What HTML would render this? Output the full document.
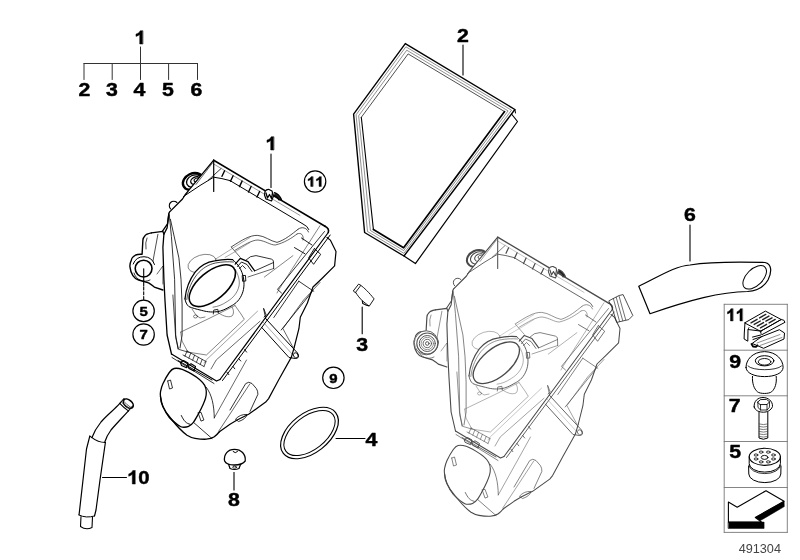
<!DOCTYPE html>
<html><head><meta charset="utf-8"><style>
html,body{margin:0;padding:0;background:#fff;}
svg{display:block;will-change:transform;}
</style></head><body>
<svg width="800" height="560" viewBox="0 0 800 560" stroke-linejoin="round" stroke-linecap="round">
<rect width="800" height="560" fill="#fff"/>
<g transform="translate(140,0) scale(1.15,1) translate(-140,0)">
<path d=" M142.29,44.00 L139.76,44.00 L139.76,34.45 Q138.37,35.75 136.50,36.38 L136.50,34.08 Q137.48,33.77 138.63,32.88 Q139.78,31.98 140.20,30.75 L142.29,30.75 Z" fill="#000" stroke="#000" stroke-width="0.45"/>
</g>
<path d="M140.5,47.0 L140.5,63.5" stroke="#333" stroke-width="1" fill="none" />
<path d="M84.0,63.5 L197.5,63.5" stroke="#333" stroke-width="1" fill="none" />
<path d="M84.0,63.5 L84.0,79.5" stroke="#333" stroke-width="1" fill="none" />
<path d="M112.2,63.5 L112.2,79.5" stroke="#333" stroke-width="1" fill="none" />
<path d="M140.5,63.5 L140.5,79.5" stroke="#333" stroke-width="1" fill="none" />
<path d="M168.6,63.5 L168.6,79.5" stroke="#333" stroke-width="1" fill="none" />
<path d="M197.5,63.5 L197.5,79.5" stroke="#333" stroke-width="1" fill="none" />
<g transform="translate(84.3,0) scale(1.15,1) translate(-84.3,0)">
<text x="79.16" y="96" font-family="Liberation Sans, sans-serif" font-weight="bold" font-size="18.5" fill="#000" stroke="#000" stroke-width="0.45">2</text>
</g>
<g transform="translate(112,0) scale(1.15,1) translate(-112,0)">
<text x="106.86" y="96" font-family="Liberation Sans, sans-serif" font-weight="bold" font-size="18.5" fill="#000" stroke="#000" stroke-width="0.45">3</text>
</g>
<g transform="translate(139.5,0) scale(1.15,1) translate(-139.5,0)">
<text x="134.36" y="96" font-family="Liberation Sans, sans-serif" font-weight="bold" font-size="18.5" fill="#000" stroke="#000" stroke-width="0.45">4</text>
</g>
<g transform="translate(168,0) scale(1.15,1) translate(-168,0)">
<text x="162.86" y="96" font-family="Liberation Sans, sans-serif" font-weight="bold" font-size="18.5" fill="#000" stroke="#000" stroke-width="0.45">5</text>
</g>
<g transform="translate(196.5,0) scale(1.15,1) translate(-196.5,0)">
<text x="191.36" y="96" font-family="Liberation Sans, sans-serif" font-weight="bold" font-size="18.5" fill="#000" stroke="#000" stroke-width="0.45">6</text>
</g>
<path d="M405.3,43.6 L514.9,109.5 L404.0,256.0 L364.6,232.5 L353.6,114.2 Z" stroke="#000" stroke-width="1.4" fill="none" />
<path d="M406.2,47.0 L511.5,110.2 L403.9,253.3 L367.5,231.5 L356.1,115.2 Z" stroke="#444" stroke-width="0.6" fill="none" />
<path d="M407.1,50.4 L508.1,110.9 L403.7,250.6 L370.4,230.5 L358.7,116.2 Z" stroke="#444" stroke-width="0.6" fill="none" />
<path d="M361.3,117.3 L408.1,53.9 L504.6,111.6" stroke="#222" stroke-width="0.8" fill="none" />
<path d="M504.6,111.6 L403.6,247.8 L373.4,229.4" stroke="#000" stroke-width="1.7" fill="none" />
<path d="M373.4,229.4 L361.3,117.3" stroke="#000" stroke-width="1.1" fill="none" />
<path d="M511.5,114.0 L517.5,121.5 L415.4,263.6 L404.0,256.0" stroke="#000" stroke-width="1.2" fill="none" />
<path d="M514.9,109.5 L515.5,113.0" stroke="#000" stroke-width="1" fill="none" />
<g transform="translate(463,0) scale(1.15,1) translate(-463,0)">
<text x="457.86" y="42" font-family="Liberation Sans, sans-serif" font-weight="bold" font-size="18.5" fill="#000" stroke="#000" stroke-width="0.45">2</text>
</g>
<path d="M463.0,45.0 L463.0,75.0" stroke="#000" stroke-width="1.1" fill="none" />
<circle cx="315.1" cy="181.5" r="10.7" stroke="#000" stroke-width="1.2" fill="#fff"/>
<g transform="translate(315.1,0) scale(1.1,1) translate(-315.1,0)">
<path d=" M313.01,186.40 L311.15,186.40 L311.15,179.39 Q310.13,180.34 308.76,180.81 L308.76,179.12 Q309.48,178.89 310.32,178.24 Q311.16,177.57 311.47,176.68 L313.01,176.68 Z M320.56,186.40 L318.70,186.40 L318.70,179.39 Q317.68,180.34 316.31,180.81 L316.31,179.12 Q317.03,178.89 317.87,178.24 Q318.71,177.57 319.02,176.68 L320.56,176.68 Z" fill="#000" stroke="#000" stroke-width="0.45"/>
</g>
<circle cx="143.6" cy="310.9" r="10.7" stroke="#000" stroke-width="1.2" fill="#fff"/>
<g transform="translate(143.6,0) scale(1.1,1) translate(-143.6,0)">
<text x="139.82" y="315.79999999999995" font-family="Liberation Sans, sans-serif" font-weight="bold" font-size="13.58" fill="#000" stroke="#000" stroke-width="0.45">5</text>
</g>
<circle cx="143.6" cy="334.5" r="10.7" stroke="#000" stroke-width="1.2" fill="#fff"/>
<g transform="translate(143.6,0) scale(1.1,1) translate(-143.6,0)">
<text x="139.82" y="339.4" font-family="Liberation Sans, sans-serif" font-weight="bold" font-size="13.58" fill="#000" stroke="#000" stroke-width="0.45">7</text>
</g>
<circle cx="333.4" cy="377.8" r="10.7" stroke="#000" stroke-width="1.2" fill="#fff"/>
<g transform="translate(333.4,0) scale(1.1,1) translate(-333.4,0)">
<text x="329.62" y="382.7" font-family="Liberation Sans, sans-serif" font-weight="bold" font-size="13.58" fill="#000" stroke="#000" stroke-width="0.45">9</text>
</g>
<path d="M143.7,268.8 L143.7,286.0" stroke="#000" stroke-width="1.1" fill="none" />
<path d="M143.7,287.0 L143.7,300.0" stroke="#000" stroke-width="1.1" fill="none" stroke-dasharray="3,1.8"/>
<g id="h1"><path d="M213.7,160.2 L325.0,226.3" stroke="#000" stroke-width="1.60" fill="none"/>
<path d="M325,226.3 Q329.5,228.5 328.3,232.5" stroke="#000" stroke-width="1.60" fill="none"/>
<path d="M183.5,196.5 L200,185.5 L213.65,177.2 Q222,178.3 230,180.6 L303,224 Q307.5,226 308.8,229.5" stroke="#000" stroke-width="1.00" fill="none"/>
<path d="M213.7,164.0 L300.0,215.4" stroke="#555" stroke-width="0.60" fill="none"/>
<path d="M222.0,176.3 L224.6,170.8" stroke="#000" stroke-width="1.40" fill="none"/>
<path d="M230.5,181.3 L233.1,175.8" stroke="#000" stroke-width="1.40" fill="none"/>
<path d="M239.5,186.6 L242.1,181.1" stroke="#000" stroke-width="1.40" fill="none"/>
<path d="M248.5,192.0 L251.1,186.5" stroke="#000" stroke-width="1.40" fill="none"/>
<path d="M257.0,197.0 L259.6,191.5" stroke="#000" stroke-width="1.40" fill="none"/>
<path d="M213.7,160.2 L213.7,191.5" stroke="#000" stroke-width="1.20" fill="none"/>
<path d="M221.0,168.6 L208.3,180.2" stroke="#000" stroke-width="0.80" fill="none"/>
<path d="M264.5,195 L265,191.5 Q266.5,189.2 269,189.5 L272,191 L273.5,196 L271.5,201 L266,199 Z" stroke="#000" stroke-width="1.20" fill="#fff"/>
<path d="M266,193 L267.5,198 L269.5,194.5 L271.5,198.5 L272.5,193" stroke="#000" stroke-width="1.30" fill="none"/>
<path d="M274.5,192.5 Q279,194 281.5,199.5 L279,200 Q277,196 274,195.5" stroke="#000" stroke-width="1.20" fill="#222"/>
<path d="M213.7,160.2 L189.5,189.4 L185.0,195.0 L182.5,199.0 L169.4,212.1" stroke="#000" stroke-width="1.30" fill="none"/>
<path d="M212.5,163.0 L196.0,184.5" stroke="#000" stroke-width="0.60" fill="none"/>
<clipPath id="gclip"><path d="M213.65,160.15 L172,210.4 L150,200 L170,150 Z"/></clipPath>
<g clip-path="url(#gclip)">
<ellipse cx="193" cy="181.5" rx="10.5" ry="8" transform="rotate(-25 193 181.5)" stroke="#000" stroke-width="2.40" fill="none"/>
<ellipse cx="194" cy="181" rx="7.8" ry="5.8" transform="rotate(-25 194 181)" stroke="#000" stroke-width="1.30" fill="none"/>
<ellipse cx="195.5" cy="180.5" rx="5" ry="3.5" transform="rotate(-25 195.5 180.5)" stroke="#000" stroke-width="1.30" fill="none"/>
<ellipse cx="196.5" cy="180" rx="2.5" ry="1.8" transform="rotate(-25 196.5 180)" stroke="#000" stroke-width="1.00" fill="none"/>
</g>
<path d="M170.6,208.8 a 3.2,3.2 0 1,1 6.3,-6.3" stroke="#000" stroke-width="1.10" fill="none"/>
<path d="M169.4,212.1 L168.8,213.8 L167.5,223.8 L162.5,231.2" stroke="#000" stroke-width="1.30" fill="none"/>
<path d="M168.8,214.0 L167.1,227.9 L163.9,234.3 L162.9,247.1 L163.9,279.3 L165.0,300.7 L167.1,335.0 L171.5,354.0" stroke="#000" stroke-width="1.30" fill="none"/>
<path d="M170.4,219.3 L178.9,257.9 L181.0,279.3 L182.1,305.0 L182.1,335.0 L180.0,348.0" stroke="#000" stroke-width="0.80" fill="none"/>
<path d="M169.3,215.0 L171.4,236.4 L174.6,279.3 L175.7,335.0 L178.0,349.0" stroke="#000" stroke-width="0.80" fill="none"/>
<path d="M157.9,234.3 L152.9,261.4" stroke="#000" stroke-width="0.70" fill="none"/>
<path d="M157.0,274.0 L162.9,266.0 L162.9,284.0" stroke="#000" stroke-width="0.60" fill="none"/>
<path d="M163.9,234.3 L162.9,231.4 L151.4,232.9" stroke="#000" stroke-width="1.30" fill="none"/>
<path d="M151.4,232.9 Q146,234 145,235.7 Q142.9,238 142.9,240 L142.1,254.3 Q138,254 135.7,255 Q131.5,257.5 131.4,260 Q129.5,264 130,267.1 Q130.5,272 132.9,275.7 Q135,279 138.6,280 L148.6,282.9 Q152,285 154.3,287.1 L162.9,290" stroke="#000" stroke-width="1.40" fill="none"/>
<path d="M147,238 Q145,242 146,249" stroke="#000" stroke-width="0.70" fill="none"/>
<circle cx="143.6" cy="268.6" r="8.4" stroke="#000" stroke-width="1.60" fill="none"/>
<path d="M133.2,264 A 11.3,11.3 0 0 1 154.5,264.5" stroke="#000" stroke-width="1.00" fill="none"/>
<path d="M134,273 A 11,11 0 0 0 150,280" stroke="#000" stroke-width="0.80" fill="none"/>
<ellipse cx="202" cy="263.5" rx="14.5" ry="8.5" transform="rotate(-18 202 263.5)" stroke="#444" stroke-width="0.60" fill="none"/>
<path d="M185,298.9 C186,288 190,279 195.3,271.9 C201,265 207,262 214.6,260.9 C221,259.5 227,259 232.6,259.6 C238,264 242,270 243.5,278 C245,287 243,293 240.3,297.6 C237,303 233,305 230,306.6 C226,309 222,311 217.2,311.7 C210,312.5 206,311.5 201.7,310.4 C196,309 192,308 188.9,306.6 C186.5,304.5 185.5,302 185,298.9 Z" stroke="none" stroke-width="0.00" fill="#fff"/>
<path d="M185,298.9 C186,288 190,279 195.3,271.9 C201,265 207,262 214.6,260.9 C221,259.5 227,259 232.6,259.6" stroke="#000" stroke-width="1.30" fill="none"/>
<path d="M186.8,299.5 C188,289 192,281 197,274.5 C202.5,268 208.5,264.5 215.5,263 C222,261.8 228,261.5 233.5,262" stroke="#000" stroke-width="0.70" fill="none"/>
<path d="M232.6,259.6 C238,264 242,270 243.5,278 C245,287 243,293 240.3,297.6 C237,303 233,305 230,306.6 C226,309 222,311 217.2,311.7 C210,312.5 206,311.5 201.7,310.4 C196,309 192,308 188.9,306.6 C186.5,304.5 185.5,302 185,298.9" stroke="#000" stroke-width="1.00" fill="none"/>
<path d="M235.2,269.3 C238.5,275 240,281 239,286 C237.5,293 233,298 227.4,301.4 C222,305 218,306.5 213,307.2" stroke="#333" stroke-width="0.60" fill="none"/>
<ellipse cx="212.3" cy="285.7" rx="27.8" ry="14" transform="rotate(-40 212.3 285.7)" stroke="#000" stroke-width="1.60" fill="none"/>
<path d="M235.2,264.1 L240.3,258.4 L248,261.6 L254.5,270.6" stroke="#000" stroke-width="1.30" fill="none"/>
<path d="M237.5,266.5 L241.5,262 L247,264.5 L252,271.5" stroke="#000" stroke-width="0.90" fill="none"/>
<path d="M239.5,268.5 L242.5,265.5 L245.5,268.5" stroke="#000" stroke-width="0.80" fill="none"/>
<path d="M242.2,276 L242.6,281.3 L245.8,281 L245.5,275.8 Z" stroke="#000" stroke-width="0.90" fill="none"/>
<path d="M213.3,314 L213.8,310 L217.8,309.3 L218.4,313" stroke="#000" stroke-width="0.80" fill="none"/>
<path d="M231.5,246.8 C242,240 250,235 257.8,235.4 C265,236 270,241 277,242.4 C285,240 292,234 298,229.3" stroke="#000" stroke-width="0.70" fill="none"/>
<path d="M235,250.3 C244,245 252,240 258,240 C266,241 270,245 275.3,245 C284,243 292,238 297,234" stroke="#000" stroke-width="0.60" fill="none"/>
<path d="M298,229.3 C302,226 307,228 308.5,232" stroke="#000" stroke-width="0.70" fill="none"/>
<path d="M320.0,225.7 L278.6,290.0 L277.0,293.0" stroke="#333" stroke-width="0.60" fill="none"/>
<path d="M292.9,255.7 L264.3,277.1" stroke="#333" stroke-width="0.60" fill="none"/>
<path d="M297,234 C301,232 304,235 303,240" stroke="#000" stroke-width="0.60" fill="none"/>
<path d="M246,260 Q250,255.5 256,255.6 L271.4,259.1 Q274,260 273.5,262.5 L254.5,271" stroke="#000" stroke-width="0.80" fill="none"/>
<path d="M273.5,262.5 L273.7,268.5" stroke="#000" stroke-width="0.80" fill="none"/>
<path d="M273.7,268.5 L248.0,277.0" stroke="#000" stroke-width="0.60" fill="none"/>
<path d="M231.2,247.0 L240.2,257.3" stroke="#000" stroke-width="0.60" fill="none"/>
<path d="M216.0,258.8 L233.0,248.0 L250.0,237.5" stroke="#555" stroke-width="0.50" fill="none"/>
<path d="M225.0,257.5 L238.0,250.0 L250.0,242.5" stroke="#555" stroke-width="0.50" fill="none"/>
<path d="M211.0,369.0 L216.2,360.0 L260.0,321.2" stroke="#000" stroke-width="0.60" fill="none"/>
<path d="M180.7,332.1 L210.0,318.0 L235.0,305.5" stroke="#333" stroke-width="0.60" fill="none"/>
<path d="M180.7,332.1 L182.0,341.0 L187.9,352.1" stroke="#333" stroke-width="0.60" fill="none"/>
<path d="M187.9,352.1 L206.4,355.0 L244.3,319.3 L241.0,314.0 L235.0,305.5" stroke="#333" stroke-width="0.60" fill="none"/>
<path d="M204.0,363.0 L206.2,360.0 L257.5,311.2" stroke="#444" stroke-width="0.50" fill="none"/>
<path d="M172.9,295.0 L175.7,337.9 L178.6,349.3 L187.9,352.1" stroke="#000" stroke-width="0.70" fill="none"/>
<path d="M192.0,309.0 L196.0,315.0 L200.0,318.0 L205.0,317.0" stroke="#333" stroke-width="0.60" fill="none"/>
<ellipse cx="195.5" cy="316.5" rx="2" ry="1.5" transform="rotate(0 195.5 316.5)" stroke="#333" stroke-width="0.60" fill="none"/>
<path d="M216,311 C222,316 228,318 232,316 C234,314 234,310 232,307" stroke="#333" stroke-width="0.60" fill="none"/>
<path d="M328.3,232.5 L220.0,379.5" stroke="#000" stroke-width="1.20" fill="none"/>
<path d="M330.2,235.0 L222.5,380.5" stroke="#000" stroke-width="1.00" fill="none"/>
<path d="M324.5,231.5 L277.5,289.4 L281.5,293.0" stroke="#000" stroke-width="0.80" fill="none"/>
<path d="M244.6,349.6 L246.6,352.1" stroke="#000" stroke-width="0.90" fill="none"/>
<path d="M238.7,358.5 L240.7,361.0" stroke="#000" stroke-width="0.90" fill="none"/>
<path d="M232.8,366.3 L234.8,368.8" stroke="#000" stroke-width="0.90" fill="none"/>
<path d="M226.9,372.2 L228.9,374.7" stroke="#000" stroke-width="0.90" fill="none"/>
<path d="M298.8,281.2 L310.0,288.8 L313.8,291.2" stroke="#000" stroke-width="0.80" fill="none"/>
<path d="M298.8,281.2 L273.8,317.5" stroke="#000" stroke-width="0.80" fill="none"/>
<path d="M312.5,291.2 L281.2,330.0" stroke="#000" stroke-width="0.80" fill="none"/>
<path d="M263.8,308.8 L266.2,315.0 L264.0,317.0" stroke="#000" stroke-width="0.80" fill="none"/>
<path d="M301.5,238.0 L312.0,245.0" stroke="#000" stroke-width="0.90" fill="none"/>
<path d="M294.5,247.6 L305.0,253.8" stroke="#000" stroke-width="0.90" fill="none"/>
<path d="M314.3,248.6 L320.7,254.3 L313.6,264.3 L308.6,257.9 L314.3,248.6" stroke="#000" stroke-width="0.90" fill="none"/>
<path d="M327.0,237.5 L330.3,240.1 L336.0,251.6 L334.6,265.9 L321.7,278.7 L313.0,287.0 L307.4,303.0 L300.3,317.3 L298.9,328.7 L294.3,347.0" stroke="#000" stroke-width="1.20" fill="none"/>
<path d="M320.0,282.5 L303.6,300.0 L282.9,328.6 L292.9,347.1" stroke="#000" stroke-width="0.60" fill="none"/>
<path d="M265.7,318.6 L297.5,353 Q299.5,357 295.5,358.5 L289,357.5 L261.4,327.1" stroke="#000" stroke-width="1.00" fill="none"/>
<path d="M263.0,322.0 L293.0,355.0" stroke="#555" stroke-width="0.50" fill="none"/>
<ellipse cx="296" cy="355.5" rx="2.3" ry="3" transform="rotate(-40 296 355.5)" stroke="#000" stroke-width="0.80" fill="none"/>
<path d="M263.6,308.6 L265.7,318.6" stroke="#000" stroke-width="0.80" fill="none"/>
<path d="M171.5,354.0 L216.5,381.0 L220.0,379.5" stroke="#000" stroke-width="1.30" fill="none"/>
<path d="M172.0,357.5 L214.0,383.5" stroke="#000" stroke-width="0.80" fill="none"/>
<path d="M187.0,351.0 L206.0,361.5" stroke="#000" stroke-width="0.70" fill="none"/>
<path d="M185.0,356.0 L204.0,366.5" stroke="#000" stroke-width="0.70" fill="none"/>
<path d="M187.0,351.0 L185.0,356.0" stroke="#000" stroke-width="0.70" fill="none"/>
<path d="M190.8,353.1 L188.8,358.1" stroke="#000" stroke-width="0.70" fill="none"/>
<path d="M194.6,355.2 L192.6,360.2" stroke="#000" stroke-width="0.70" fill="none"/>
<path d="M198.4,357.3 L196.4,362.3" stroke="#000" stroke-width="0.70" fill="none"/>
<path d="M202.2,359.4 L200.2,364.4" stroke="#000" stroke-width="0.70" fill="none"/>
<path d="M206.0,361.5 L204.0,366.5" stroke="#000" stroke-width="0.70" fill="none"/>
<path d="M183.0,355.0 L185.0,356.0" stroke="#000" stroke-width="0.70" fill="none"/>
<path d="M180.5,362.5 L183.5,360.5 L188,363 L186.5,367.7 L181.5,365.5 Z" stroke="#000" stroke-width="1.10" fill="none"/>
<path d="M188,365.5 L191,363.8 L195.5,366.5 L194,371 L189,368.5 Z" stroke="#000" stroke-width="1.10" fill="none"/>
<path d="M178.0,360.5 L198.0,372.0 L212.0,380.0" stroke="#000" stroke-width="1.00" fill="none"/>
<path d="M174.1,368.5 C176.2,368.0 179.2,368.4 182.2,369.3 C185.1,370.2 188.9,372.4 191.8,374.1 C194.7,375.8 197.7,377.8 199.8,379.7 C202.0,381.6 203.6,383.4 204.7,385.4 C205.8,387.4 206.2,389.7 206.3,391.8 C206.4,393.9 206.1,396.1 205.5,398.2 C204.9,400.3 204.2,402.0 203.0,404.7 C201.8,407.4 199.8,411.4 198.2,414.3 C196.6,417.2 195.0,420.3 193.4,422.3 C191.8,424.3 190.4,425.6 188.6,426.4 C186.8,427.2 184.1,427.3 182.5,427.2 C180.9,427.1 181.1,427.2 178.9,425.6 C176.7,424.0 172.0,420.7 169.3,417.5 C166.6,414.3 164.4,409.8 162.9,406.3 C161.4,402.8 160.9,399.0 160.5,396.6 C160.1,394.2 160.1,393.9 160.5,391.8 C160.9,389.7 161.4,387.0 162.9,383.8 C164.4,380.6 167.4,375.1 169.3,372.5 C171.2,369.9 171.9,369.0 174.1,368.5 Z" stroke="#000" stroke-width="1.30" fill="none"/>
<path d="M181.3,415.5 C184,421 186,423.5 190.2,424.3" stroke="#000" stroke-width="0.90" fill="none"/>
<path d="M167.7,381.0 L170.5,380.0 L172.5,388.0 L169.5,389.0 L167.7,381.0" stroke="#000" stroke-width="0.80" fill="none"/>
<path d="M198.2,413.0 L201.0,412.3 L203.9,420.0 L201.0,421.1 L198.2,413.0" stroke="#000" stroke-width="0.80" fill="none"/>
<path d="M160.5,396.6 C160.5,404 165,412 170.9,418.5 C176,425 181,431 187,435.2 C190,437 192,438 195,438.4 C199,439 203,439.4 206.3,439.2 C210,439 212.5,438.2 214.3,436.8 C216.5,435 218,433.5 219.1,432" stroke="#000" stroke-width="1.30" fill="none"/>
<path d="M206.3,387.3 C212,395 214,405 214.3,417.9" stroke="#000" stroke-width="0.80" fill="none"/>
<path d="M193.4,422.3 L212.0,438.5" stroke="#000" stroke-width="0.80" fill="none"/>
<path d="M214.3,417.9 L246.5,360.0" stroke="#000" stroke-width="0.60" fill="none"/>
<path d="M219.0,430.7 L249.7,384.1" stroke="#000" stroke-width="0.60" fill="none"/>
<path d="M294.3,347.0 L291.4,357.1 L278.6,380.0 L268.6,398.6 L265.7,402.1 L248.6,414.3 L237.1,420.0 L230.0,424.3 L219.1,432.0" stroke="#000" stroke-width="1.20" fill="none"/>
<path d="M230,410 L245.7,383.6 Q248.6,381 252,383.5 L256.4,388.6 Q258,391 257.9,394.3 L250,411.4" stroke="#000" stroke-width="0.80" fill="none"/>
<path d="M235.7,419 Q240,414 247,414.5 Q246,419 239,421.4 Z" stroke="#000" stroke-width="0.80" fill="none"/></g>
<g transform="translate(284,77)"><path d="M213.7,160.2 L325.0,226.3" stroke="#4a4a4a" stroke-width="1.36" fill="none"/>
<path d="M325,226.3 Q329.5,228.5 328.3,232.5" stroke="#4a4a4a" stroke-width="1.36" fill="none"/>
<path d="M183.5,196.5 L200,185.5 L213.65,177.2 Q222,178.3 230,180.6 L303,224 Q307.5,226 308.8,229.5" stroke="#4a4a4a" stroke-width="0.85" fill="none"/>
<path d="M213.7,164.0 L300.0,215.4" stroke="#888" stroke-width="0.51" fill="none"/>
<path d="M222.0,176.3 L224.6,170.8" stroke="#4a4a4a" stroke-width="1.19" fill="none"/>
<path d="M230.5,181.3 L233.1,175.8" stroke="#4a4a4a" stroke-width="1.19" fill="none"/>
<path d="M239.5,186.6 L242.1,181.1" stroke="#4a4a4a" stroke-width="1.19" fill="none"/>
<path d="M248.5,192.0 L251.1,186.5" stroke="#4a4a4a" stroke-width="1.19" fill="none"/>
<path d="M257.0,197.0 L259.6,191.5" stroke="#4a4a4a" stroke-width="1.19" fill="none"/>
<path d="M213.7,160.2 L213.7,191.5" stroke="#4a4a4a" stroke-width="1.02" fill="none"/>
<path d="M221.0,168.6 L208.3,180.2" stroke="#4a4a4a" stroke-width="0.68" fill="none"/>
<path d="M264.5,195 L265,191.5 Q266.5,189.2 269,189.5 L272,191 L273.5,196 L271.5,201 L266,199 Z" stroke="#4a4a4a" stroke-width="1.02" fill="#fff"/>
<path d="M266,193 L267.5,198 L269.5,194.5 L271.5,198.5 L272.5,193" stroke="#4a4a4a" stroke-width="1.10" fill="none"/>
<path d="M274.5,192.5 Q279,194 281.5,199.5 L279,200 Q277,196 274,195.5" stroke="#4a4a4a" stroke-width="1.02" fill="#222"/>
<path d="M213.7,160.2 L189.5,189.4 L185.0,195.0 L182.5,199.0 L169.4,212.1" stroke="#4a4a4a" stroke-width="1.10" fill="none"/>
<path d="M212.5,163.0 L196.0,184.5" stroke="#4a4a4a" stroke-width="0.51" fill="none"/>
<clipPath id="gclip2"><path d="M213.65,160.15 L172,210.4 L150,200 L170,150 Z"/></clipPath>
<g clip-path="url(#gclip2)">
<ellipse cx="193" cy="181.5" rx="10.5" ry="8" transform="rotate(-25 193 181.5)" stroke="#4a4a4a" stroke-width="2.04" fill="none"/>
<ellipse cx="194" cy="181" rx="7.8" ry="5.8" transform="rotate(-25 194 181)" stroke="#4a4a4a" stroke-width="1.10" fill="none"/>
<ellipse cx="195.5" cy="180.5" rx="5" ry="3.5" transform="rotate(-25 195.5 180.5)" stroke="#4a4a4a" stroke-width="1.10" fill="none"/>
<ellipse cx="196.5" cy="180" rx="2.5" ry="1.8" transform="rotate(-25 196.5 180)" stroke="#4a4a4a" stroke-width="0.85" fill="none"/>
</g>
<path d="M170.6,208.8 a 3.2,3.2 0 1,1 6.3,-6.3" stroke="#4a4a4a" stroke-width="0.94" fill="none"/>
<path d="M169.4,212.1 L168.8,213.8 L167.5,223.8 L162.5,231.2" stroke="#4a4a4a" stroke-width="1.10" fill="none"/>
<path d="M168.8,214.0 L167.1,227.9 L163.9,234.3 L162.9,247.1 L163.9,279.3 L165.0,300.7 L167.1,335.0 L171.5,354.0" stroke="#4a4a4a" stroke-width="1.10" fill="none"/>
<path d="M170.4,219.3 L178.9,257.9 L181.0,279.3 L182.1,305.0 L182.1,335.0 L180.0,348.0" stroke="#4a4a4a" stroke-width="0.68" fill="none"/>
<path d="M169.3,215.0 L171.4,236.4 L174.6,279.3 L175.7,335.0 L178.0,349.0" stroke="#4a4a4a" stroke-width="0.68" fill="none"/>
<path d="M157.9,234.3 L152.9,261.4" stroke="#4a4a4a" stroke-width="0.59" fill="none"/>
<path d="M157.0,274.0 L162.9,266.0 L162.9,284.0" stroke="#4a4a4a" stroke-width="0.51" fill="none"/>
<path d="M163.9,234.3 L162.9,231.4 L151.4,232.9" stroke="#4a4a4a" stroke-width="1.10" fill="none"/>
<path d="M151.4,232.9 Q146,234 145,235.7 Q142.9,238 142.9,240 L142.1,254.3 Q138,254 135.7,255 Q131.5,257.5 131.4,260 Q129.5,264 130,267.1 Q130.5,272 132.9,275.7 Q135,279 138.6,280 L148.6,282.9 Q152,285 154.3,287.1 L162.9,290" stroke="#4a4a4a" stroke-width="1.19" fill="none"/>
<path d="M147,238 Q145,242 146,249" stroke="#4a4a4a" stroke-width="0.59" fill="none"/>
<path d="M133.2,264 A 11.3,11.3 0 0 1 154.5,264.5" stroke="#4a4a4a" stroke-width="0.85" fill="none"/>
<path d="M134,273 A 11,11 0 0 0 150,280" stroke="#4a4a4a" stroke-width="0.68" fill="none"/>
<ellipse cx="202" cy="263.5" rx="14.5" ry="8.5" transform="rotate(-18 202 263.5)" stroke="#777" stroke-width="0.51" fill="none"/>
<path d="M185,298.9 C186,288 190,279 195.3,271.9 C201,265 207,262 214.6,260.9 C221,259.5 227,259 232.6,259.6 C238,264 242,270 243.5,278 C245,287 243,293 240.3,297.6 C237,303 233,305 230,306.6 C226,309 222,311 217.2,311.7 C210,312.5 206,311.5 201.7,310.4 C196,309 192,308 188.9,306.6 C186.5,304.5 185.5,302 185,298.9 Z" stroke="none" stroke-width="0.00" fill="#fff"/>
<path d="M185,298.9 C186,288 190,279 195.3,271.9 C201,265 207,262 214.6,260.9 C221,259.5 227,259 232.6,259.6" stroke="#4a4a4a" stroke-width="1.10" fill="none"/>
<path d="M186.8,299.5 C188,289 192,281 197,274.5 C202.5,268 208.5,264.5 215.5,263 C222,261.8 228,261.5 233.5,262" stroke="#4a4a4a" stroke-width="0.59" fill="none"/>
<path d="M232.6,259.6 C238,264 242,270 243.5,278 C245,287 243,293 240.3,297.6 C237,303 233,305 230,306.6 C226,309 222,311 217.2,311.7 C210,312.5 206,311.5 201.7,310.4 C196,309 192,308 188.9,306.6 C186.5,304.5 185.5,302 185,298.9" stroke="#4a4a4a" stroke-width="0.85" fill="none"/>
<path d="M235.2,269.3 C238.5,275 240,281 239,286 C237.5,293 233,298 227.4,301.4 C222,305 218,306.5 213,307.2" stroke="#666" stroke-width="0.51" fill="none"/>
<ellipse cx="212.3" cy="285.7" rx="27.8" ry="14" transform="rotate(-40 212.3 285.7)" stroke="#4a4a4a" stroke-width="1.36" fill="none"/>
<path d="M235.2,264.1 L240.3,258.4 L248,261.6 L254.5,270.6" stroke="#4a4a4a" stroke-width="1.10" fill="none"/>
<path d="M237.5,266.5 L241.5,262 L247,264.5 L252,271.5" stroke="#4a4a4a" stroke-width="0.77" fill="none"/>
<path d="M239.5,268.5 L242.5,265.5 L245.5,268.5" stroke="#4a4a4a" stroke-width="0.68" fill="none"/>
<path d="M242.2,276 L242.6,281.3 L245.8,281 L245.5,275.8 Z" stroke="#4a4a4a" stroke-width="0.77" fill="none"/>
<path d="M213.3,314 L213.8,310 L217.8,309.3 L218.4,313" stroke="#4a4a4a" stroke-width="0.68" fill="none"/>
<path d="M231.5,246.8 C242,240 250,235 257.8,235.4 C265,236 270,241 277,242.4 C285,240 292,234 298,229.3" stroke="#4a4a4a" stroke-width="0.59" fill="none"/>
<path d="M235,250.3 C244,245 252,240 258,240 C266,241 270,245 275.3,245 C284,243 292,238 297,234" stroke="#4a4a4a" stroke-width="0.51" fill="none"/>
<path d="M298,229.3 C302,226 307,228 308.5,232" stroke="#4a4a4a" stroke-width="0.59" fill="none"/>
<path d="M320.0,225.7 L278.6,290.0 L277.0,293.0" stroke="#666" stroke-width="0.51" fill="none"/>
<path d="M292.9,255.7 L264.3,277.1" stroke="#666" stroke-width="0.51" fill="none"/>
<path d="M297,234 C301,232 304,235 303,240" stroke="#4a4a4a" stroke-width="0.51" fill="none"/>
<path d="M246,260 Q250,255.5 256,255.6 L271.4,259.1 Q274,260 273.5,262.5 L254.5,271" stroke="#4a4a4a" stroke-width="0.68" fill="none"/>
<path d="M273.5,262.5 L273.7,268.5" stroke="#4a4a4a" stroke-width="0.68" fill="none"/>
<path d="M273.7,268.5 L248.0,277.0" stroke="#4a4a4a" stroke-width="0.51" fill="none"/>
<path d="M231.2,247.0 L240.2,257.3" stroke="#4a4a4a" stroke-width="0.51" fill="none"/>
<path d="M216.0,258.8 L233.0,248.0 L250.0,237.5" stroke="#888" stroke-width="0.42" fill="none"/>
<path d="M225.0,257.5 L238.0,250.0 L250.0,242.5" stroke="#888" stroke-width="0.42" fill="none"/>
<path d="M211.0,369.0 L216.2,360.0 L260.0,321.2" stroke="#4a4a4a" stroke-width="0.51" fill="none"/>
<path d="M180.7,332.1 L210.0,318.0 L235.0,305.5" stroke="#666" stroke-width="0.51" fill="none"/>
<path d="M180.7,332.1 L182.0,341.0 L187.9,352.1" stroke="#666" stroke-width="0.51" fill="none"/>
<path d="M187.9,352.1 L206.4,355.0 L244.3,319.3 L241.0,314.0 L235.0,305.5" stroke="#666" stroke-width="0.51" fill="none"/>
<path d="M204.0,363.0 L206.2,360.0 L257.5,311.2" stroke="#777" stroke-width="0.42" fill="none"/>
<path d="M172.9,295.0 L175.7,337.9 L178.6,349.3 L187.9,352.1" stroke="#4a4a4a" stroke-width="0.59" fill="none"/>
<path d="M192.0,309.0 L196.0,315.0 L200.0,318.0 L205.0,317.0" stroke="#666" stroke-width="0.51" fill="none"/>
<ellipse cx="195.5" cy="316.5" rx="2" ry="1.5" transform="rotate(0 195.5 316.5)" stroke="#666" stroke-width="0.51" fill="none"/>
<path d="M216,311 C222,316 228,318 232,316 C234,314 234,310 232,307" stroke="#666" stroke-width="0.51" fill="none"/>
<path d="M328.3,232.5 L220.0,379.5" stroke="#4a4a4a" stroke-width="1.02" fill="none"/>
<path d="M330.2,235.0 L222.5,380.5" stroke="#4a4a4a" stroke-width="0.85" fill="none"/>
<path d="M324.5,231.5 L277.5,289.4 L281.5,293.0" stroke="#4a4a4a" stroke-width="0.68" fill="none"/>
<path d="M244.6,349.6 L246.6,352.1" stroke="#4a4a4a" stroke-width="0.77" fill="none"/>
<path d="M238.7,358.5 L240.7,361.0" stroke="#4a4a4a" stroke-width="0.77" fill="none"/>
<path d="M232.8,366.3 L234.8,368.8" stroke="#4a4a4a" stroke-width="0.77" fill="none"/>
<path d="M226.9,372.2 L228.9,374.7" stroke="#4a4a4a" stroke-width="0.77" fill="none"/>
<path d="M298.8,281.2 L310.0,288.8 L313.8,291.2" stroke="#4a4a4a" stroke-width="0.68" fill="none"/>
<path d="M298.8,281.2 L273.8,317.5" stroke="#4a4a4a" stroke-width="0.68" fill="none"/>
<path d="M312.5,291.2 L281.2,330.0" stroke="#4a4a4a" stroke-width="0.68" fill="none"/>
<path d="M263.8,308.8 L266.2,315.0 L264.0,317.0" stroke="#4a4a4a" stroke-width="0.68" fill="none"/>
<path d="M301.5,238.0 L312.0,245.0" stroke="#4a4a4a" stroke-width="0.77" fill="none"/>
<path d="M294.5,247.6 L305.0,253.8" stroke="#4a4a4a" stroke-width="0.77" fill="none"/>
<path d="M314.3,248.6 L320.7,254.3 L313.6,264.3 L308.6,257.9 L314.3,248.6" stroke="#4a4a4a" stroke-width="0.77" fill="none"/>
<path d="M327.0,237.5 L330.3,240.1 L336.0,251.6 L334.6,265.9 L321.7,278.7 L313.0,287.0 L307.4,303.0 L300.3,317.3 L298.9,328.7 L294.3,347.0" stroke="#4a4a4a" stroke-width="1.02" fill="none"/>
<path d="M320.0,282.5 L303.6,300.0 L282.9,328.6 L292.9,347.1" stroke="#4a4a4a" stroke-width="0.51" fill="none"/>
<path d="M265.7,318.6 L297.5,353 Q299.5,357 295.5,358.5 L289,357.5 L261.4,327.1" stroke="#4a4a4a" stroke-width="0.85" fill="none"/>
<path d="M263.0,322.0 L293.0,355.0" stroke="#888" stroke-width="0.42" fill="none"/>
<ellipse cx="296" cy="355.5" rx="2.3" ry="3" transform="rotate(-40 296 355.5)" stroke="#4a4a4a" stroke-width="0.68" fill="none"/>
<path d="M263.6,308.6 L265.7,318.6" stroke="#4a4a4a" stroke-width="0.68" fill="none"/>
<path d="M171.5,354.0 L216.5,381.0 L220.0,379.5" stroke="#4a4a4a" stroke-width="1.10" fill="none"/>
<path d="M172.0,357.5 L214.0,383.5" stroke="#4a4a4a" stroke-width="0.68" fill="none"/>
<path d="M187.0,351.0 L206.0,361.5" stroke="#4a4a4a" stroke-width="0.59" fill="none"/>
<path d="M185.0,356.0 L204.0,366.5" stroke="#4a4a4a" stroke-width="0.59" fill="none"/>
<path d="M187.0,351.0 L185.0,356.0" stroke="#4a4a4a" stroke-width="0.59" fill="none"/>
<path d="M190.8,353.1 L188.8,358.1" stroke="#4a4a4a" stroke-width="0.59" fill="none"/>
<path d="M194.6,355.2 L192.6,360.2" stroke="#4a4a4a" stroke-width="0.59" fill="none"/>
<path d="M198.4,357.3 L196.4,362.3" stroke="#4a4a4a" stroke-width="0.59" fill="none"/>
<path d="M202.2,359.4 L200.2,364.4" stroke="#4a4a4a" stroke-width="0.59" fill="none"/>
<path d="M206.0,361.5 L204.0,366.5" stroke="#4a4a4a" stroke-width="0.59" fill="none"/>
<path d="M183.0,355.0 L185.0,356.0" stroke="#4a4a4a" stroke-width="0.59" fill="none"/>
<path d="M180.5,362.5 L183.5,360.5 L188,363 L186.5,367.7 L181.5,365.5 Z" stroke="#4a4a4a" stroke-width="0.94" fill="none"/>
<path d="M188,365.5 L191,363.8 L195.5,366.5 L194,371 L189,368.5 Z" stroke="#4a4a4a" stroke-width="0.94" fill="none"/>
<path d="M178.0,360.5 L198.0,372.0 L212.0,380.0" stroke="#4a4a4a" stroke-width="0.85" fill="none"/>
<path d="M174.1,368.5 C176.2,368.0 179.2,368.4 182.2,369.3 C185.1,370.2 188.9,372.4 191.8,374.1 C194.7,375.8 197.7,377.8 199.8,379.7 C202.0,381.6 203.6,383.4 204.7,385.4 C205.8,387.4 206.2,389.7 206.3,391.8 C206.4,393.9 206.1,396.1 205.5,398.2 C204.9,400.3 204.2,402.0 203.0,404.7 C201.8,407.4 199.8,411.4 198.2,414.3 C196.6,417.2 195.0,420.3 193.4,422.3 C191.8,424.3 190.4,425.6 188.6,426.4 C186.8,427.2 184.1,427.3 182.5,427.2 C180.9,427.1 181.1,427.2 178.9,425.6 C176.7,424.0 172.0,420.7 169.3,417.5 C166.6,414.3 164.4,409.8 162.9,406.3 C161.4,402.8 160.9,399.0 160.5,396.6 C160.1,394.2 160.1,393.9 160.5,391.8 C160.9,389.7 161.4,387.0 162.9,383.8 C164.4,380.6 167.4,375.1 169.3,372.5 C171.2,369.9 171.9,369.0 174.1,368.5 Z" stroke="#4a4a4a" stroke-width="1.10" fill="none"/>
<path d="M181.3,415.5 C184,421 186,423.5 190.2,424.3" stroke="#4a4a4a" stroke-width="0.77" fill="none"/>
<path d="M167.7,381.0 L170.5,380.0 L172.5,388.0 L169.5,389.0 L167.7,381.0" stroke="#4a4a4a" stroke-width="0.68" fill="none"/>
<path d="M198.2,413.0 L201.0,412.3 L203.9,420.0 L201.0,421.1 L198.2,413.0" stroke="#4a4a4a" stroke-width="0.68" fill="none"/>
<path d="M160.5,396.6 C160.5,404 165,412 170.9,418.5 C176,425 181,431 187,435.2 C190,437 192,438 195,438.4 C199,439 203,439.4 206.3,439.2 C210,439 212.5,438.2 214.3,436.8 C216.5,435 218,433.5 219.1,432" stroke="#4a4a4a" stroke-width="1.10" fill="none"/>
<path d="M206.3,387.3 C212,395 214,405 214.3,417.9" stroke="#4a4a4a" stroke-width="0.68" fill="none"/>
<path d="M193.4,422.3 L212.0,438.5" stroke="#4a4a4a" stroke-width="0.68" fill="none"/>
<path d="M214.3,417.9 L246.5,360.0" stroke="#4a4a4a" stroke-width="0.51" fill="none"/>
<path d="M219.0,430.7 L249.7,384.1" stroke="#4a4a4a" stroke-width="0.51" fill="none"/>
<path d="M294.3,347.0 L291.4,357.1 L278.6,380.0 L268.6,398.6 L265.7,402.1 L248.6,414.3 L237.1,420.0 L230.0,424.3 L219.1,432.0" stroke="#4a4a4a" stroke-width="1.02" fill="none"/>
<path d="M230,410 L245.7,383.6 Q248.6,381 252,383.5 L256.4,388.6 Q258,391 257.9,394.3 L250,411.4" stroke="#4a4a4a" stroke-width="0.68" fill="none"/>
<path d="M235.7,419 Q240,414 247,414.5 Q246,419 239,421.4 Z" stroke="#4a4a4a" stroke-width="0.68" fill="none"/></g>
<g transform="translate(271,0) scale(1.15,1) translate(-271,0)">
<path d=" M273.29,150.00 L270.76,150.00 L270.76,140.45 Q269.37,141.75 267.50,142.38 L267.50,140.08 Q268.48,139.77 269.63,138.88 Q270.78,137.97 271.20,136.75 L273.29,136.75 Z" fill="#000" stroke="#000" stroke-width="0.45"/>
</g>
<path d="M271.0,154.0 L271.0,187.5" stroke="#000" stroke-width="1.1" fill="none" />
<path d="M353.5,290.7 L358.6,284.1 L360.8,285.4 L355.6,292.3 Z" stroke="#000" stroke-width="0.9" fill="none" />
<path d="M360.8,285.4 C364,287.5 369,292.5 374.1,298.9 L369.2,306.2 C367,304.5 364.5,302.5 362.6,301 C360,298.5 357.5,295.5 355.6,292.3" stroke="#000" stroke-width="0.9" fill="none" />
<path d="M362.3,301 L362.8,303.6 L366.5,305.2 L368.5,305.8" stroke="#000" stroke-width="1.1" fill="none" />
<g transform="translate(362.2,0) scale(1.15,1) translate(-362.2,0)">
<text x="357.06" y="351" font-family="Liberation Sans, sans-serif" font-weight="bold" font-size="18.5" fill="#000" stroke="#000" stroke-width="0.45">3</text>
</g>
<path d="M362.2,307.0 L362.2,333.8" stroke="#000" stroke-width="1.1" fill="none" />
<ellipse cx="309.5" cy="433" rx="33.2" ry="19.8" transform="rotate(-38 309.5 433)" stroke="#000" stroke-width="1.2" fill="none"/>
<ellipse cx="309.5" cy="433" rx="29.8" ry="16.6" transform="rotate(-38 309.5 433)" stroke="#000" stroke-width="1.0" fill="none"/>
<path d="M336.0,438.5 L365.0,438.5" stroke="#000" stroke-width="1.0" fill="none" />
<g transform="translate(371.5,0) scale(1.15,1) translate(-371.5,0)">
<text x="366.36" y="446.5" font-family="Liberation Sans, sans-serif" font-weight="bold" font-size="18.5" fill="#000" stroke="#000" stroke-width="0.45">4</text>
</g>
<path d="M224.6,461 C223.5,454 228,449.4 234.4,449.4 C241,449.4 246,454 245.2,461 C243,464 238,465 234.4,465 C230,465 226,464 224.6,461 Z" stroke="#000" stroke-width="1.3" fill="none" />
<path d="M233.1,451.6 Q235.3,454 237.5,451.6" stroke="#000" stroke-width="1.0" fill="none" />
<path d="M228.6,464.3 L230,468.5 Q234.4,470.5 239,468.5 L240.6,464.3" stroke="#000" stroke-width="1.2" fill="none" />
<ellipse cx="234.6" cy="467.2" rx="2" ry="1" stroke="#000" stroke-width="0.8" fill="none"/>
<path d="M234.0,472.5 L234.0,490.0" stroke="#000" stroke-width="1.1" fill="none" />
<g transform="translate(234,0) scale(1.15,1) translate(-234,0)">
<text x="228.86" y="506" font-family="Liberation Sans, sans-serif" font-weight="bold" font-size="18.5" fill="#000" stroke="#000" stroke-width="0.45">8</text>
</g>
<path d="M119.8,403.4 C114,410 108,414 101,422 C97,427 94,432 92,437.5" stroke="#000" stroke-width="1.2" fill="none" />
<path d="M128.4,410.9 C122,418 117,423 111,430 C108,434 106,438 104.6,442.5" stroke="#000" stroke-width="1.2" fill="none" />
<path d="M89.8,436.1 Q91,437 92,437.7 C96,441 100,442.5 105.4,442.5" stroke="#000" stroke-width="1.1" fill="none" />
<path d="M89.8,436.1 L86.5,449 L83,480 L79.5,511 L79,515" stroke="#000" stroke-width="1.2" fill="none" />
<path d="M105.4,442.5 L104.3,450 L100,480 L96,510 L94.5,516" stroke="#000" stroke-width="1.2" fill="none" />
<path d="M79,515 Q86,518.5 94.5,516" stroke="#000" stroke-width="1.0" fill="none" />
<path d="M81,516.5 L80.5,526.5 Q86,530.5 92,527.5 L92.5,517" stroke="#000" stroke-width="1.1" fill="none" />
<ellipse cx="128.3" cy="403.6" rx="5.8" ry="3.6" transform="rotate(40 128.3 403.6)" stroke="#000" stroke-width="1.6" fill="none"/>
<path d="M119.8,403.4 L124,398.5 M128.4,410.9 L132.6,406" stroke="#000" stroke-width="1.1" fill="none" />
<path d="M119.8,403.4 Q124,408 128.4,410.9" stroke="#000" stroke-width="1.1" fill="none" />
<path d="M121.2,401.8 Q125.3,406.5 129.8,409.3 M122.6,400.2 Q126.7,405 131.2,407.7" stroke="#333" stroke-width="0.8" fill="none" />
<path d="M102.5,477.5 L126.5,477.5" stroke="#000" stroke-width="1.0" fill="none" />
<g transform="translate(138.2,0) scale(1.08,1) translate(-138.2,0)">
<text x="138.20" y="484" font-family="Liberation Sans, sans-serif" font-weight="bold" font-size="18.8" fill="#000" stroke="#000" stroke-width="0.45">0</text>
<path d=" M135.30,484.00 L132.73,484.00 L132.73,474.30 Q131.32,475.62 129.42,476.25 L129.42,473.92 Q130.42,473.60 131.58,472.70 Q132.75,471.78 133.18,470.54 L135.30,470.54 Z" fill="#000" stroke="#000" stroke-width="0.45"/>
</g>
<path d="M 638.75,286.25 C 660,276 675,266 690,265 C 715,261 745,262 765,262.5 C 772,264 772,272 768,280 C 764,287 756,291 747.5,291.5 C 720,292 690,300 650,313.75 Z" stroke="#000" stroke-width="1.2" fill="none" />
<ellipse cx="754.7" cy="277.3" rx="14.5" ry="8.2" transform="rotate(-45 754.7 277.3)" stroke="#000" stroke-width="1" fill="none"/>
<path d="M690.0,225.0 L690.0,261.0" stroke="#000" stroke-width="1.1" fill="none" />
<g transform="translate(690,0) scale(1.15,1) translate(-690,0)">
<text x="684.86" y="221" font-family="Liberation Sans, sans-serif" font-weight="bold" font-size="18.5" fill="#000" stroke="#000" stroke-width="0.45">6</text>
</g>
<circle cx="426.3" cy="342.8" r="12" stroke="#666" stroke-width="1.0" fill="#fff"/>
<circle cx="427.3" cy="343.5" r="10.5" stroke="#555" stroke-width="1.1" fill="#fff"/>
<circle cx="427.3" cy="343.5" r="8" stroke="#555" stroke-width="1" fill="none"/>
<circle cx="427.3" cy="343.5" r="6.2" stroke="#777" stroke-width="0.8" fill="none"/>
<circle cx="427.3" cy="343.5" r="4.2" stroke="#555" stroke-width="0.9" fill="none"/>
<circle cx="427.3" cy="343.5" r="1.8" stroke="#444" stroke-width="0.9" fill="none"/>
<path d="M609.1,300.7 L619.1,295.5 L623.1,294.6 L632.8,315.5 L628.8,319.6 L616.7,322.4 L612.3,308.3 Z" stroke="#222" stroke-width="0.8" fill="none" />
<path d="M613.3,298.4 L619.6,321.5" stroke="#333" stroke-width="0.7" fill="none" />
<path d="M616.2,297.3 L622.7,320.6" stroke="#333" stroke-width="0.7" fill="none" />
<path d="M619.1,296.2 L625.7,319.7" stroke="#333" stroke-width="0.7" fill="none" />
<path d="M724.2,304.3 L787.3,304.3" stroke="#777" stroke-width="0.9" fill="none" />
<path d="M724.2,350.2 L787.3,350.2" stroke="#777" stroke-width="0.9" fill="none" />
<path d="M724.2,395.8 L787.3,395.8" stroke="#777" stroke-width="0.9" fill="none" />
<path d="M724.2,441.5 L787.3,441.5" stroke="#777" stroke-width="0.9" fill="none" />
<path d="M724.2,487.5 L787.3,487.5" stroke="#777" stroke-width="0.9" fill="none" />
<path d="M724.2,532.4 L787.3,532.4" stroke="#777" stroke-width="0.9" fill="none" />
<path d="M724.2,304.3 L724.2,532.4" stroke="#777" stroke-width="0.9" fill="none" />
<path d="M787.3,304.3 L787.3,532.4" stroke="#777" stroke-width="0.9" fill="none" />
<path d=" M732.83,320.90 L730.50,320.90 L730.50,312.13 Q729.23,313.32 727.51,313.90 L727.51,311.79 Q728.41,311.50 729.47,310.68 Q730.52,309.85 730.91,308.73 L732.83,308.73 Z M742.29,320.90 L739.96,320.90 L739.96,312.13 Q738.68,313.32 736.97,313.90 L736.97,311.79 Q737.87,311.50 738.92,310.68 Q739.97,309.85 740.37,308.73 L742.29,308.73 Z" fill="#000" stroke="#000" stroke-width="0.45"/>
<g transform="translate(729.3,0) scale(1.15,1) translate(-729.3,0)">
<text x="729.30" y="367.8" font-family="Liberation Sans, sans-serif" font-weight="bold" font-size="18.5" fill="#000" stroke="#000" stroke-width="0.45">9</text>
</g>
<g transform="translate(728.8,0) scale(1.15,1) translate(-728.8,0)">
<text x="728.80" y="412" font-family="Liberation Sans, sans-serif" font-weight="bold" font-size="18.5" fill="#000" stroke="#000" stroke-width="0.45">7</text>
</g>
<g transform="translate(729.3,0) scale(1.15,1) translate(-729.3,0)">
<text x="729.30" y="458.4" font-family="Liberation Sans, sans-serif" font-weight="bold" font-size="18.5" fill="#000" stroke="#000" stroke-width="0.45">5</text>
</g>
<path d="M745.0,322.7 L765.4,311.1 L781.2,319.5 L760.8,331.1 Z" stroke="#000" stroke-width="1.0" fill="none" />
<path d="M760.8,331.1 L781.2,319.5 Q784.5,319.5 785,322.3 L762,334.6 Q760,334 760.8,331.1 Z" stroke="#000" stroke-width="1.0" fill="none" />
<path d="M751.0,322.8 L757.1,319.3" stroke="#222" stroke-width="1.4" fill="none" />
<path d="M759.6,317.9 L765.7,314.4" stroke="#222" stroke-width="1.4" fill="none" />
<path d="M754.2,324.4 L760.3,321.0" stroke="#222" stroke-width="1.4" fill="none" />
<path d="M762.7,319.6 L768.9,316.1" stroke="#222" stroke-width="1.4" fill="none" />
<path d="M757.3,326.1 L763.5,322.6" stroke="#222" stroke-width="1.4" fill="none" />
<path d="M765.9,321.2 L772.0,317.8" stroke="#222" stroke-width="1.4" fill="none" />
<path d="M760.5,327.8 L766.6,324.3" stroke="#222" stroke-width="1.4" fill="none" />
<path d="M769.1,322.9 L775.2,319.4" stroke="#222" stroke-width="1.4" fill="none" />
<path d="M745,322.7 L744.3,333 L744.1,339 L747.8,341.2 L748,329.5 L760.8,331.1" stroke="#000" stroke-width="1.0" fill="none" />
<path d="M748,329.5 L749,327.5" stroke="#000" stroke-width="0.8" fill="none" />
<path d="M752.5,337.1 L760.8,335 M762,336.5 L779.4,329.7 L784.5,333 L784,339 L763.6,348.3 L752.5,343.6 Z" stroke="#000" stroke-width="1.0" fill="none" />
<path d="M753,339.5 L762,336.5" stroke="#000" stroke-width="1.0" fill="none" />
<path d="M757,343 L780,334.5 M760,345.5 L782,337.5" stroke="#444" stroke-width="0.6" fill="none" />
<path d="M751.5,344 L753,346.5 L756,346.8 L757.5,345.3" stroke="#000" stroke-width="1.8" fill="none" />
<path d="M746,367.4 C746,360 752,352 764.6,351.6 C777,352 783,360 783.1,367.4 C783,373 775,376.6 764.6,376.6 C754,376.6 746,373 746,367.4 Z" stroke="#000" stroke-width="1.0" fill="none" />
<ellipse cx="764.6" cy="360.8" rx="9.3" ry="5.1" stroke="#000" stroke-width="1" fill="none"/>
<ellipse cx="764.6" cy="361.8" rx="6.3" ry="3.3" stroke="#000" stroke-width="0.9" fill="none"/>
<path d="M748,366 C752,371 777,371 781.5,366" stroke="#000" stroke-width="0.8" fill="none" />
<path d="M752.5,376.4 C752,383 754,389 757.5,391.8 C760,394 769,394 771.6,391.8 C775,389 777,383 776.2,376.4" stroke="#000" stroke-width="1.0" fill="none" />
<path d="M754.2,407 C753.5,401 758,397.5 763,397.5 C768,397.5 772.8,401 772.5,406.5 C771,410.5 767,412.2 763.5,412.2 C759,412.2 755,410.5 754.2,407 Z" stroke="#000" stroke-width="1.0" fill="none" />
<path d="M757.8,402 L760.5,399.6 L766.5,399.4 L769.6,401.8 L767,404.5 L760.5,404.6 Z" stroke="#000" stroke-width="0.9" fill="none" />
<path d="M757.8,402 L758,407.5 L760.6,410 L767,410 L769.4,407.3 L769.6,401.8 M760.5,404.6 L760.6,410 M767,404.5 L767,410" stroke="#000" stroke-width="0.8" fill="none" />
<path d="M759,412 L759,438 Q763.4,440.5 767.8,438 L767.8,412" stroke="#000" stroke-width="1.0" fill="none" />
<path d="M759.3,424.0 Q763.4,425.3 767.5,424.0" stroke="#444" stroke-width="0.7" fill="none" />
<path d="M759.3,426.5 Q763.4,427.8 767.5,426.5" stroke="#444" stroke-width="0.7" fill="none" />
<path d="M759.3,429.0 Q763.4,430.3 767.5,429.0" stroke="#444" stroke-width="0.7" fill="none" />
<path d="M759.3,431.5 Q763.4,432.8 767.5,431.5" stroke="#444" stroke-width="0.7" fill="none" />
<path d="M759.3,434.0 Q763.4,435.3 767.5,434.0" stroke="#444" stroke-width="0.7" fill="none" />
<path d="M759.3,436.5 Q763.4,437.8 767.5,436.5" stroke="#444" stroke-width="0.7" fill="none" />
<ellipse cx="764.8" cy="456.8" rx="15.6" ry="8.6" stroke="#000" stroke-width="1.1" fill="none"/>
<path d="M749.2,456.8 L749.2,463.5 A15.6,8.6 0 0 0 780.4,463.5 L780.4,456.8" stroke="#000" stroke-width="1.0" fill="none" />
<path d="M749,465 A15.8,8.6 0 0 0 780.6,465" stroke="#000" stroke-width="0.8" fill="none" />
<path d="M748.6,466 L748.8,474 A16,8.6 0 0 0 780.8,474 L781,466" stroke="#000" stroke-width="1.0" fill="none" />
<ellipse cx="764.6" cy="457.4" rx="3.4" ry="2.0" stroke="#000" stroke-width="0.9" fill="none"/>
<ellipse cx="773.4" cy="459.0" rx="1.9" ry="1.1" stroke="#000" stroke-width="0.8" fill="none"/>
<ellipse cx="768.3" cy="461.9" rx="1.9" ry="1.1" stroke="#000" stroke-width="0.8" fill="none"/>
<ellipse cx="761.1" cy="461.9" rx="1.9" ry="1.1" stroke="#000" stroke-width="0.8" fill="none"/>
<ellipse cx="756.0" cy="459.0" rx="1.9" ry="1.1" stroke="#000" stroke-width="0.8" fill="none"/>
<ellipse cx="756.0" cy="455.0" rx="1.9" ry="1.1" stroke="#000" stroke-width="0.8" fill="none"/>
<ellipse cx="761.1" cy="452.1" rx="1.9" ry="1.1" stroke="#000" stroke-width="0.8" fill="none"/>
<ellipse cx="768.3" cy="452.1" rx="1.9" ry="1.1" stroke="#000" stroke-width="0.8" fill="none"/>
<ellipse cx="773.4" cy="455.0" rx="1.9" ry="1.1" stroke="#000" stroke-width="0.8" fill="none"/>
<path d="M728.4,502.1 L737.2,507.2 L766,490.7 L784.1,501.2 L755.3,517.4 L761.8,522.1 L728.4,522.1 Z" stroke="#000" stroke-width="1.1" fill="#fff" />
<path d="M755.3,517.4 L784.1,501.2 L784.3,506.6 L760,520.8 Z" stroke="#000" stroke-width="0.5" fill="#000" />
<path d="M728.4,522.1 L764.1,522.1 L764.1,528.4 L728.4,528.4 Z" stroke="#000" stroke-width="0.5" fill="#000" />
<text x="759.8" y="552.5" font-family="Liberation Sans, sans-serif" font-size="12.7" fill="#444" text-anchor="middle">491304</text>
</svg>
</body></html>
